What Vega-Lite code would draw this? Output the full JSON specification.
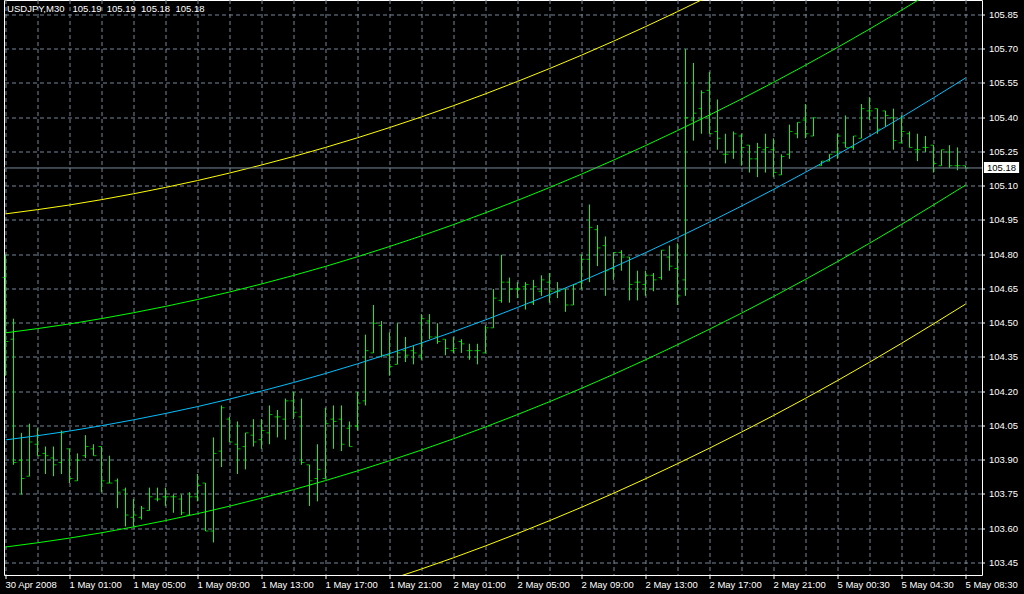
{
  "$schema": "https://vega.github.io/schema/vega-lite/v6.json",
  "width": 978,
  "height": 575,
  "autosize": {"type": "none"},
  "padding": {"left": 4, "top": 0, "right": 42, "bottom": 19},
  "background": "#000000",
  "config": {
    "view": {"stroke": "#ffffff", "strokeWidth": 1},
    "axis": {"translate": 0, "gridColor": "#778899", "gridDash": [4, 3], "gridWidth": 1, "gridOpacity": 1, "tickColor": "#ffffff", "labelColor": "#ffffff", "labelFont": "Liberation Sans", "domain": false}
  },
  "datasets": {
    "bars": [
      {"i":0,"o":104.70,"h":104.80,"l":104.27,"c":104.42},
      {"i":1,"o":104.43,"h":104.52,"l":103.88,"c":103.89},
      {"i":2,"o":103.90,"h":104.02,"l":103.75,"c":103.82},
      {"i":3,"o":103.83,"h":104.06,"l":103.83,"c":103.98},
      {"i":4,"o":103.97,"h":104.04,"l":103.92,"c":103.92},
      {"i":5,"o":103.93,"h":103.96,"l":103.84,"c":103.92},
      {"i":6,"o":103.91,"h":103.96,"l":103.83,"c":103.88},
      {"i":7,"o":103.89,"h":104.03,"l":103.84,"c":104.02},
      {"i":8,"o":103.95,"h":103.95,"l":103.80,"c":103.82},
      {"i":9,"o":103.81,"h":103.93,"l":103.81,"c":103.90},
      {"i":10,"o":103.92,"h":104.01,"l":103.91,"c":103.96},
      {"i":11,"o":103.95,"h":103.97,"l":103.92,"c":103.92},
      {"i":12,"o":103.96,"h":103.96,"l":103.76,"c":103.81},
      {"i":13,"o":103.80,"h":103.92,"l":103.80,"c":103.80},
      {"i":14,"o":103.81,"h":103.82,"l":103.69,"c":103.76},
      {"i":15,"o":103.77,"h":103.78,"l":103.61,"c":103.66},
      {"i":16,"o":103.65,"h":103.73,"l":103.61,"c":103.66},
      {"i":17,"o":103.65,"h":103.70,"l":103.64,"c":103.69},
      {"i":18,"o":103.68,"h":103.78,"l":103.68,"c":103.74},
      {"i":19,"o":103.73,"h":103.78,"l":103.72,"c":103.73},
      {"i":20,"o":103.74,"h":103.78,"l":103.70,"c":103.74},
      {"i":21,"o":103.74,"h":103.75,"l":103.67,"c":103.74},
      {"i":22,"o":103.73,"h":103.75,"l":103.66,"c":103.67},
      {"i":23,"o":103.66,"h":103.76,"l":103.66,"c":103.74},
      {"i":24,"o":103.74,"h":103.84,"l":103.72,"c":103.79},
      {"i":25,"o":103.80,"h":103.80,"l":103.59,"c":103.59},
      {"i":26,"o":103.59,"h":104.00,"l":103.54,"c":103.93},
      {"i":27,"o":103.94,"h":104.14,"l":103.87,"c":104.13},
      {"i":28,"o":104.08,"h":104.09,"l":103.98,"c":103.98},
      {"i":29,"o":103.97,"h":104.07,"l":103.84,"c":103.95},
      {"i":30,"o":103.96,"h":104.02,"l":103.86,"c":104.02},
      {"i":31,"o":104.01,"h":104.08,"l":103.96,"c":103.98},
      {"i":32,"o":103.99,"h":104.08,"l":103.95,"c":104.03},
      {"i":33,"o":104.02,"h":104.14,"l":103.97,"c":104.10},
      {"i":34,"o":104.09,"h":104.12,"l":104.00,"c":104.09},
      {"i":35,"o":104.08,"h":104.17,"l":103.99,"c":104.16},
      {"i":36,"o":104.16,"h":104.20,"l":104.08,"c":104.11},
      {"i":37,"o":104.09,"h":104.17,"l":103.88,"c":103.89},
      {"i":38,"o":103.88,"h":103.88,"l":103.70,"c":103.81},
      {"i":39,"o":103.82,"h":103.97,"l":103.72,"c":103.86},
      {"i":40,"o":103.82,"h":104.13,"l":103.82,"c":104.06},
      {"i":41,"o":104.08,"h":104.14,"l":103.95,"c":104.07},
      {"i":42,"o":104.08,"h":104.14,"l":103.94,"c":103.97},
      {"i":43,"o":104.04,"h":104.07,"l":103.96,"c":103.96},
      {"i":44,"o":104.05,"h":104.20,"l":104.03,"c":104.15},
      {"i":45,"o":104.16,"h":104.45,"l":104.14,"c":104.38},
      {"i":46,"o":104.37,"h":104.58,"l":104.37,"c":104.50},
      {"i":47,"o":104.49,"h":104.51,"l":104.35,"c":104.36},
      {"i":48,"o":104.36,"h":104.46,"l":104.27,"c":104.31},
      {"i":49,"o":104.32,"h":104.50,"l":104.32,"c":104.37},
      {"i":50,"o":104.38,"h":104.44,"l":104.33,"c":104.36},
      {"i":51,"o":104.38,"h":104.40,"l":104.32,"c":104.37},
      {"i":52,"o":104.36,"h":104.54,"l":104.34,"c":104.52},
      {"i":53,"o":104.51,"h":104.54,"l":104.43,"c":104.44},
      {"i":54,"o":104.44,"h":104.50,"l":104.41,"c":104.42},
      {"i":55,"o":104.43,"h":104.43,"l":104.36,"c":104.39},
      {"i":56,"o":104.38,"h":104.44,"l":104.37,"c":104.39},
      {"i":57,"o":104.42,"h":104.43,"l":104.37,"c":104.41},
      {"i":58,"o":104.38,"h":104.41,"l":104.34,"c":104.38},
      {"i":59,"o":104.38,"h":104.41,"l":104.32,"c":104.38},
      {"i":60,"o":104.37,"h":104.49,"l":104.37,"c":104.48},
      {"i":61,"o":104.48,"h":104.65,"l":104.48,"c":104.61},
      {"i":62,"o":104.60,"h":104.80,"l":104.59,"c":104.68},
      {"i":63,"o":104.68,"h":104.70,"l":104.59,"c":104.65},
      {"i":64,"o":104.65,"h":104.68,"l":104.61,"c":104.65},
      {"i":65,"o":104.66,"h":104.68,"l":104.56,"c":104.67},
      {"i":66,"o":104.59,"h":104.69,"l":104.58,"c":104.66},
      {"i":67,"o":104.64,"h":104.71,"l":104.62,"c":104.69},
      {"i":68,"o":104.68,"h":104.72,"l":104.59,"c":104.64},
      {"i":69,"o":104.64,"h":104.68,"l":104.61,"c":104.64},
      {"i":70,"o":104.65,"h":104.65,"l":104.55,"c":104.58},
      {"i":71,"o":104.58,"h":104.67,"l":104.58,"c":104.67},
      {"i":72,"o":104.68,"h":104.80,"l":104.65,"c":104.78},
      {"i":73,"o":104.78,"h":105.02,"l":104.68,"c":104.92},
      {"i":74,"o":104.91,"h":104.93,"l":104.75,"c":104.83},
      {"i":75,"o":104.84,"h":104.88,"l":104.62,"c":104.73},
      {"i":76,"o":104.74,"h":104.81,"l":104.69,"c":104.81},
      {"i":77,"o":104.81,"h":104.82,"l":104.73,"c":104.79},
      {"i":78,"o":104.79,"h":104.79,"l":104.60,"c":104.67},
      {"i":79,"o":104.68,"h":104.73,"l":104.60,"c":104.68},
      {"i":80,"o":104.67,"h":104.73,"l":104.62,"c":104.71},
      {"i":81,"o":104.71,"h":104.72,"l":104.64,"c":104.69},
      {"i":82,"o":104.70,"h":104.82,"l":104.69,"c":104.82},
      {"i":83,"o":104.79,"h":104.84,"l":104.73,"c":104.75},
      {"i":84,"o":104.74,"h":104.85,"l":104.58,"c":104.62},
      {"i":85,"o":104.69,"h":105.70,"l":104.62,"c":105.40},
      {"i":86,"o":105.39,"h":105.64,"l":105.30,"c":105.42},
      {"i":87,"o":105.44,"h":105.52,"l":105.33,"c":105.51},
      {"i":88,"o":105.52,"h":105.60,"l":105.33,"c":105.33},
      {"i":89,"o":105.34,"h":105.48,"l":105.26,"c":105.31},
      {"i":90,"o":105.24,"h":105.33,"l":105.20,"c":105.24},
      {"i":91,"o":105.25,"h":105.34,"l":105.22,"c":105.33},
      {"i":92,"o":105.32,"h":105.33,"l":105.19,"c":105.27},
      {"i":93,"o":105.28,"h":105.28,"l":105.16,"c":105.22},
      {"i":94,"o":105.22,"h":105.29,"l":105.14,"c":105.27},
      {"i":95,"o":105.26,"h":105.33,"l":105.16,"c":105.27},
      {"i":96,"o":105.26,"h":105.31,"l":105.14,"c":105.16},
      {"i":97,"o":105.15,"h":105.24,"l":105.15,"c":105.23},
      {"i":98,"o":105.24,"h":105.37,"l":105.22,"c":105.34},
      {"i":99,"o":105.33,"h":105.38,"l":105.31,"c":105.38},
      {"i":100,"o":105.39,"h":105.46,"l":105.31,"c":105.33},
      {"i":101,"o":105.32,"h":105.40,"l":105.32,"c":105.40},
      {"i":102,"o":105.19,"h":105.21,"l":105.19,"c":105.21},
      {"i":103,"o":105.21,"h":105.24,"l":105.21,"c":105.24},
      {"i":104,"o":105.25,"h":105.33,"l":105.22,"c":105.32},
      {"i":105,"o":105.29,"h":105.41,"l":105.27,"c":105.27},
      {"i":106,"o":105.27,"h":105.32,"l":105.26,"c":105.32},
      {"i":107,"o":105.31,"h":105.46,"l":105.31,"c":105.44},
      {"i":108,"o":105.43,"h":105.49,"l":105.39,"c":105.43},
      {"i":109,"o":105.44,"h":105.44,"l":105.33,"c":105.35},
      {"i":110,"o":105.43,"h":105.43,"l":105.36,"c":105.41},
      {"i":111,"o":105.40,"h":105.44,"l":105.26,"c":105.30},
      {"i":112,"o":105.29,"h":105.41,"l":105.29,"c":105.34},
      {"i":113,"o":105.33,"h":105.34,"l":105.27,"c":105.27},
      {"i":114,"o":105.26,"h":105.33,"l":105.21,"c":105.26},
      {"i":115,"o":105.27,"h":105.32,"l":105.25,"c":105.27},
      {"i":116,"o":105.28,"h":105.28,"l":105.16,"c":105.20},
      {"i":117,"o":105.19,"h":105.26,"l":105.19,"c":105.26},
      {"i":118,"o":105.25,"h":105.28,"l":105.18,"c":105.19},
      {"i":119,"o":105.19,"h":105.27,"l":105.17,"c":105.19},
      {"i":120,"o":105.19,"h":105.19,"l":105.18,"c":105.18}
    ],
    "channel": [
      {"i":0,"line":"mid","v":103.989},{"i":8,"line":"mid","v":104.028},{"i":16,"line":"mid","v":104.077},{"i":24,"line":"mid","v":104.135},{"i":32,"line":"mid","v":104.203},{"i":40,"line":"mid","v":104.280},{"i":48,"line":"mid","v":104.367},{"i":56,"line":"mid","v":104.463},{"i":64,"line":"mid","v":104.569},{"i":72,"line":"mid","v":104.684},{"i":80,"line":"mid","v":104.809},{"i":88,"line":"mid","v":104.943},{"i":96,"line":"mid","v":105.086},{"i":104,"line":"mid","v":105.239},{"i":112,"line":"mid","v":105.402},{"i":120,"line":"mid","v":105.574},
      {"i":0,"line":"up1","v":104.458},{"i":8,"line":"up1","v":104.497},{"i":16,"line":"up1","v":104.546},{"i":24,"line":"up1","v":104.604},{"i":32,"line":"up1","v":104.672},{"i":40,"line":"up1","v":104.749},{"i":48,"line":"up1","v":104.836},{"i":56,"line":"up1","v":104.932},{"i":64,"line":"up1","v":105.038},{"i":72,"line":"up1","v":105.153},{"i":80,"line":"up1","v":105.278},{"i":88,"line":"up1","v":105.412},{"i":96,"line":"up1","v":105.555},{"i":104,"line":"up1","v":105.708},{"i":112,"line":"up1","v":105.871},{"i":120,"line":"up1","v":106.043},
      {"i":0,"line":"lo1","v":103.520},{"i":8,"line":"lo1","v":103.559},{"i":16,"line":"lo1","v":103.608},{"i":24,"line":"lo1","v":103.666},{"i":32,"line":"lo1","v":103.734},{"i":40,"line":"lo1","v":103.811},{"i":48,"line":"lo1","v":103.898},{"i":56,"line":"lo1","v":103.994},{"i":64,"line":"lo1","v":104.100},{"i":72,"line":"lo1","v":104.215},{"i":80,"line":"lo1","v":104.340},{"i":88,"line":"lo1","v":104.474},{"i":96,"line":"lo1","v":104.617},{"i":104,"line":"lo1","v":104.770},{"i":112,"line":"lo1","v":104.933},{"i":120,"line":"lo1","v":105.105},
      {"i":0,"line":"up2","v":104.979},{"i":8,"line":"up2","v":105.018},{"i":16,"line":"up2","v":105.067},{"i":24,"line":"up2","v":105.125},{"i":32,"line":"up2","v":105.193},{"i":40,"line":"up2","v":105.270},{"i":48,"line":"up2","v":105.357},{"i":56,"line":"up2","v":105.453},{"i":64,"line":"up2","v":105.559},{"i":72,"line":"up2","v":105.674},{"i":80,"line":"up2","v":105.799},{"i":88,"line":"up2","v":105.933},{"i":96,"line":"up2","v":106.076},{"i":104,"line":"up2","v":106.229},{"i":112,"line":"up2","v":106.392},{"i":120,"line":"up2","v":106.564},
      {"i":0,"line":"lo2","v":102.999},{"i":8,"line":"lo2","v":103.038},{"i":16,"line":"lo2","v":103.087},{"i":24,"line":"lo2","v":103.145},{"i":32,"line":"lo2","v":103.213},{"i":40,"line":"lo2","v":103.290},{"i":48,"line":"lo2","v":103.377},{"i":56,"line":"lo2","v":103.473},{"i":64,"line":"lo2","v":103.579},{"i":72,"line":"lo2","v":103.694},{"i":80,"line":"lo2","v":103.819},{"i":88,"line":"lo2","v":103.953},{"i":96,"line":"lo2","v":104.096},{"i":104,"line":"lo2","v":104.249},{"i":112,"line":"lo2","v":104.412},{"i":120,"line":"lo2","v":104.584}
    ]
  },
  "layer": [
    {
      "data": {"name": "bars"},
      "mark": {"type": "rule", "color": "#00ff00", "strokeWidth": 1},
      "encoding": {
        "x": {"field": "i", "type": "quantitative", "title": null,
          "scale": {"domain": [-0.1875, 122.0625], "nice": false, "zero": false},
          "axis": {"orient": "bottom", "tickCount": 60, "values": [0,4,8,12,16,20,24,28,32,36,40,44,48,52,56,60,64,68,72,76,80,84,88,92,96,100,104,108,112,116,120],
            "labelExpr": "datum.value % 8 == 0 ? ['30 Apr 2008','1 May 01:00','1 May 05:00','1 May 09:00','1 May 13:00','1 May 17:00','1 May 21:00','2 May 01:00','2 May 05:00','2 May 09:00','2 May 13:00','2 May 17:00','2 May 21:00','5 May 00:30','5 May 04:30','5 May 08:30'][datum.value / 8] : ''",
            "labelAlign": "left", "labelBaseline": "top", "labelFontSize": 9.5, "labelPadding": 1, "tickSize": 4,
            "tickOpacity": {"condition": {"test": "datum.value % 8 == 0", "value": 1}, "value": 0},
            "labelOverlap": false, "labelBound": false, "labelFlush": false, "grid": true}},
        "y": {"field": "l", "type": "quantitative", "title": null,
          "scale": {"domain": [103.3974, 105.9157], "nice": false, "zero": false},
          "axis": {"orient": "right", "tickCount": 40, "values": [103.45,103.60,103.75,103.90,104.05,104.20,104.35,104.50,104.65,104.80,104.95,105.10,105.25,105.40,105.55,105.70,105.85],
            "format": ".2f", "labelFontSize": 9.5, "labelPadding": 4, "tickSize": 3, "labelOverlap": false, "labelBound": false, "labelFlush": false, "grid": true}},
        "y2": {"field": "h"}
      }
    },
    {
      "data": {"name": "bars"},
      "mark": {"type": "tick", "orient": "horizontal", "color": "#00ff00", "size": 3, "thickness": 1, "xOffset": -1.5},
      "encoding": {
        "x": {"field": "i", "type": "quantitative", "title": null},
        "y": {"field": "o", "type": "quantitative", "title": null}
      }
    },
    {
      "data": {"name": "bars"},
      "mark": {"type": "tick", "orient": "horizontal", "color": "#00ff00", "size": 3, "thickness": 1, "xOffset": 1.5},
      "encoding": {
        "x": {"field": "i", "type": "quantitative", "title": null},
        "y": {"field": "c", "type": "quantitative", "title": null}
      }
    },
    {
      "data": {"name": "channel"},
      "mark": {"type": "line", "strokeWidth": 1, "interpolate": "monotone", "clip": true},
      "encoding": {
        "x": {"field": "i", "type": "quantitative", "title": null},
        "y": {"field": "v", "type": "quantitative", "title": null},
        "color": {"field": "line", "type": "nominal", "legend": null,
          "scale": {"domain": ["mid","up1","lo1","up2","lo2"], "range": ["#00bfff","#00ff00","#00ff00","#ffff00","#ffff00"]}}
      }
    },
    {
      "data": {"values": [{"p": 105.18}]},
      "mark": {"type": "rule", "color": "#778899", "strokeWidth": 1},
      "encoding": {"y": {"field": "p", "type": "quantitative", "title": null}}
    },
    {
      "data": {"values": [{"p": 105.18, "a": 122.3, "b": 126.7, "t": 105.206, "u": 105.158}]},
      "mark": {"type": "rect", "color": "#ffffff"},
      "encoding": {
        "x": {"field": "a", "type": "quantitative", "title": null}, "x2": {"field": "b"},
        "y": {"field": "t", "type": "quantitative", "title": null}, "y2": {"field": "u"}
      }
    },
    {
      "data": {"values": [{"p": 105.18, "m": 124.5, "label": "105.18"}]},
      "mark": {"type": "text", "color": "#000000", "font": "Liberation Sans", "fontSize": 9.5, "align": "center", "baseline": "middle"},
      "encoding": {
        "x": {"field": "m", "type": "quantitative", "title": null},
        "y": {"field": "p", "type": "quantitative", "title": null},
        "text": {"field": "label"}
      }
    },
    {
      "data": {"values": [{"x": 0.2, "y": 105.863, "label": "USDJPY,M30\u00a0\u00a0 105.19\u00a0 105.19\u00a0 105.18\u00a0 105.18"}]},
      "mark": {"type": "text", "color": "#ffffff", "font": "Liberation Sans", "fontSize": 9.5, "align": "left", "baseline": "alphabetic"},
      "encoding": {
        "x": {"field": "x", "type": "quantitative", "title": null},
        "y": {"field": "y", "type": "quantitative", "title": null},
        "text": {"field": "label"}
      }
    }
  ]
}
